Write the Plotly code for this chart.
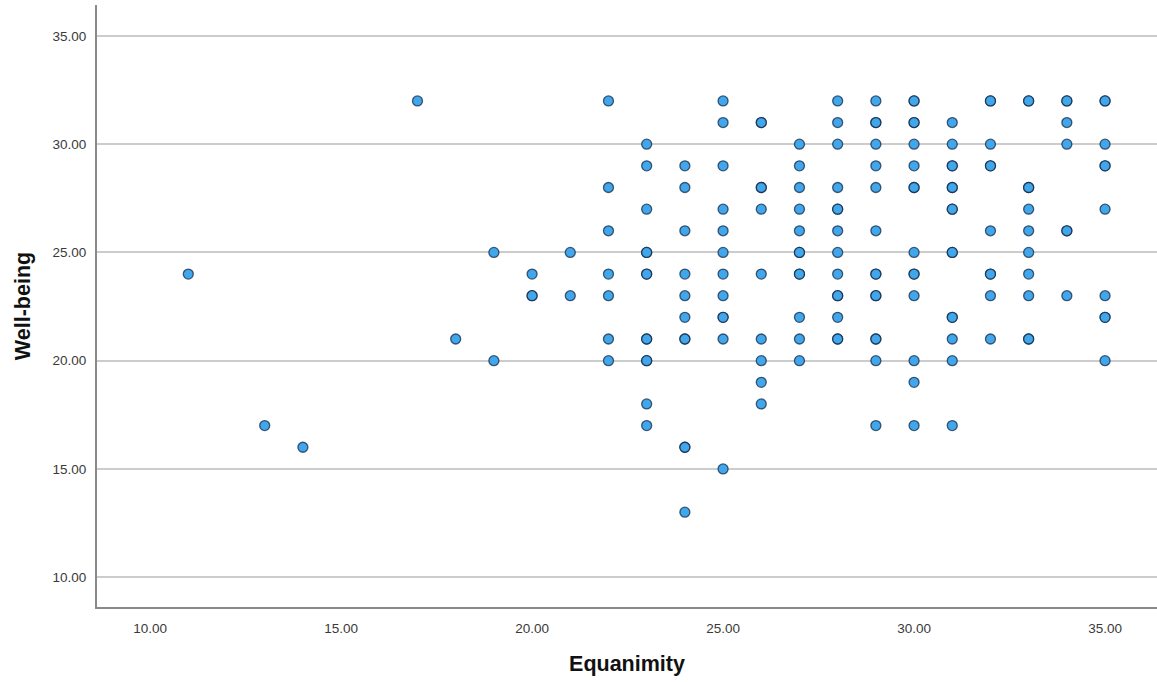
import plotly.graph_objects as go

# Equanimity score and the Well-being scores observed at that score.
# Repeated values are listed once per respondent.
equanimity = [11, 13, 14, 17, 18, 19, 20, 21, 22, 23, 24, 25, 26, 27, 28, 29, 30, 31, 32, 33, 34, 35]
wellbeing = [
    [24],
    [17],
    [16],
    [32],
    [21],
    [25, 20],
    [24, 23, 23],
    [25, 23],
    [32, 28, 26, 24, 23, 21, 20],
    [30, 29, 27, 25, 25, 24, 24, 21, 21, 20, 20, 18, 17],
    [29, 28, 26, 24, 23, 22, 21, 21, 16, 16, 13],
    [32, 31, 29, 27, 26, 25, 24, 23, 22, 22, 21, 15],
    [31, 31, 28, 28, 27, 24, 21, 20, 19, 18],
    [30, 29, 28, 27, 26, 25, 25, 24, 24, 22, 21, 20],
    [32, 31, 30, 28, 27, 27, 26, 25, 24, 23, 23, 22, 21, 21],
    [32, 31, 31, 30, 29, 28, 26, 24, 24, 23, 23, 21, 21, 20, 17],
    [32, 32, 31, 31, 30, 29, 28, 28, 25, 24, 24, 23, 20, 19, 17],
    [31, 30, 29, 29, 28, 28, 27, 27, 25, 25, 22, 22, 21, 20, 17],
    [32, 32, 30, 29, 29, 26, 24, 24, 23, 21],
    [32, 32, 28, 28, 27, 26, 25, 24, 23, 21, 21],
    [32, 32, 31, 30, 26, 26, 23],
    [32, 32, 30, 29, 29, 27, 23, 22, 22, 20],
]

tick_vals = [10, 15, 20, 25, 30, 35]
tick_text = ["10.00", "15.00", "20.00", "25.00", "30.00", "35.00"]

xs, ys = [], []
for e, group in zip(equanimity, wellbeing):
    for w in group:
        xs.append(e)
        ys.append(w)

fig = go.Figure(
    go.Scatter(
        x=xs,
        y=ys,
        mode="markers",
        marker=dict(
            size=10,
            color="#42a6ea",
            line=dict(color="rgba(10,30,60,0.7)", width=1.3),
        ),
        hoverinfo="x+y",
    )
)

axis_font = dict(family="Liberation Sans, Arial, sans-serif", size=13.5, color="#3a3a3a")
title_font = dict(family="Liberation Sans, Arial, sans-serif", size=21.5, color="#111111")

fig.update_layout(
    width=1157,
    height=682,
    margin=dict(l=97, r=0, t=5, b=75),
    paper_bgcolor="white",
    plot_bgcolor="white",
    showlegend=False,
    xaxis=dict(
        range=[8.61, 36.36],
        tickvals=tick_vals,
        ticktext=tick_text,
        tickfont=axis_font,
        showgrid=False,
        zeroline=False,
        showline=True,
        linecolor="#8a8a8a",
        linewidth=2,
        ticks="",
        ticklabelstandoff=8,
        title=dict(text="<b>Equanimity</b>", font=title_font, standoff=21),
        automargin=False,
    ),
    yaxis=dict(
        range=[8.62, 36.43],
        tickvals=tick_vals,
        ticktext=tick_text,
        tickfont=axis_font,
        showgrid=True,
        gridcolor="#cccccc",
        gridwidth=1.5,
        zeroline=False,
        showline=True,
        linecolor="#8a8a8a",
        linewidth=2,
        ticks="",
        ticklabelstandoff=6,
        title=dict(text="<b>Well-being</b>", font=title_font, standoff=16),
        automargin=False,
    ),
)

fig.write_html("out.html")
